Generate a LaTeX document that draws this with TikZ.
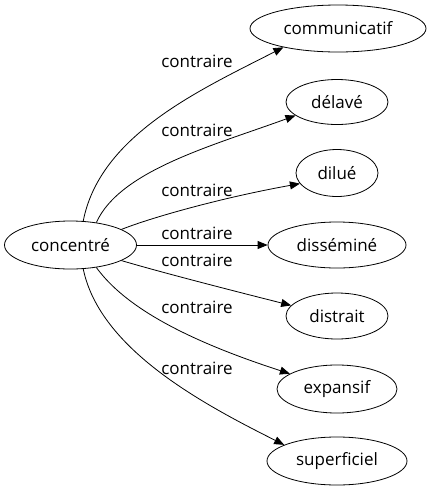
\documentclass[tikz,border=0pt]{standalone}
\usepackage{fontspec}
\setmainfont{Open Sans}
\usetikzlibrary{shapes.geometric,arrows.meta}
\begin{document}
\begin{tikzpicture}[x=1pt,y=-1pt,
  word/.style={ellipse,draw,line width=0.8pt,inner sep=0pt,font=\fontsize{17}{20}\selectfont},
  lbl/.style={inner sep=0pt,font=\fontsize{17}{20}\selectfont},
  rel/.style={line width=0.8pt,-{Triangle[length=10pt,width=8pt]}}]
\useasboundingbox (0,0) rectangle (429,491);
\node[word,minimum width=132pt,minimum height=48pt] (c) at (70.5,245) {concentré};
\node[word,minimum width=176pt,minimum height=47pt] (comm) at (338,28.5) {communicatif};
\node[word,minimum width=102pt,minimum height=45pt] (del) at (337,102) {délavé};
\node[word,minimum width=82pt,minimum height=47pt] (dil) at (337,173) {dilué};
\node[word,minimum width=138pt,minimum height=46pt] (dsm) at (337,245) {disséminé};
\node[word,minimum width=102pt,minimum height=46pt] (dis) at (337,316) {distrait};
\node[word,minimum width=120pt,minimum height=48pt] (exp) at (337,389) {expansif};
\node[word,minimum width=140pt,minimum height=48pt] (sup) at (337,461) {superficiel};
\draw[rel] (c.62) .. controls (100,135) and (200,90) .. (comm.199);
\draw[rel] (c.41) .. controls (120,170) and (215,145) .. (del.198);
\draw[rel] (c.17) .. controls (150,218) and (220,198) .. (dil.196);
\draw[rel] (c.east) -- (dsm.west);
\draw[rel] (c.-17) .. controls (160,272) and (230,290) .. (dis.167);
\draw[rel] (c.-41) .. controls (120,300) and (170,335) .. (exp.162);
\draw[rel] (c.-62) .. controls (100,350) and (205,405) .. (sup.163);
\node[lbl] (l1) at (197,61) {contraire};
\node[lbl] (l2) at (197,130) {contraire};
\node[lbl] (l3) at (197,190) {contraire};
\node[lbl] (l4) at (197,233) {contraire};
\node[lbl] (l5) at (197,260) {contraire};
\node[lbl] (l6) at (197,307) {contraire};
\node[lbl] (l7) at (197,368) {contraire};
\end{tikzpicture}
\end{document}
